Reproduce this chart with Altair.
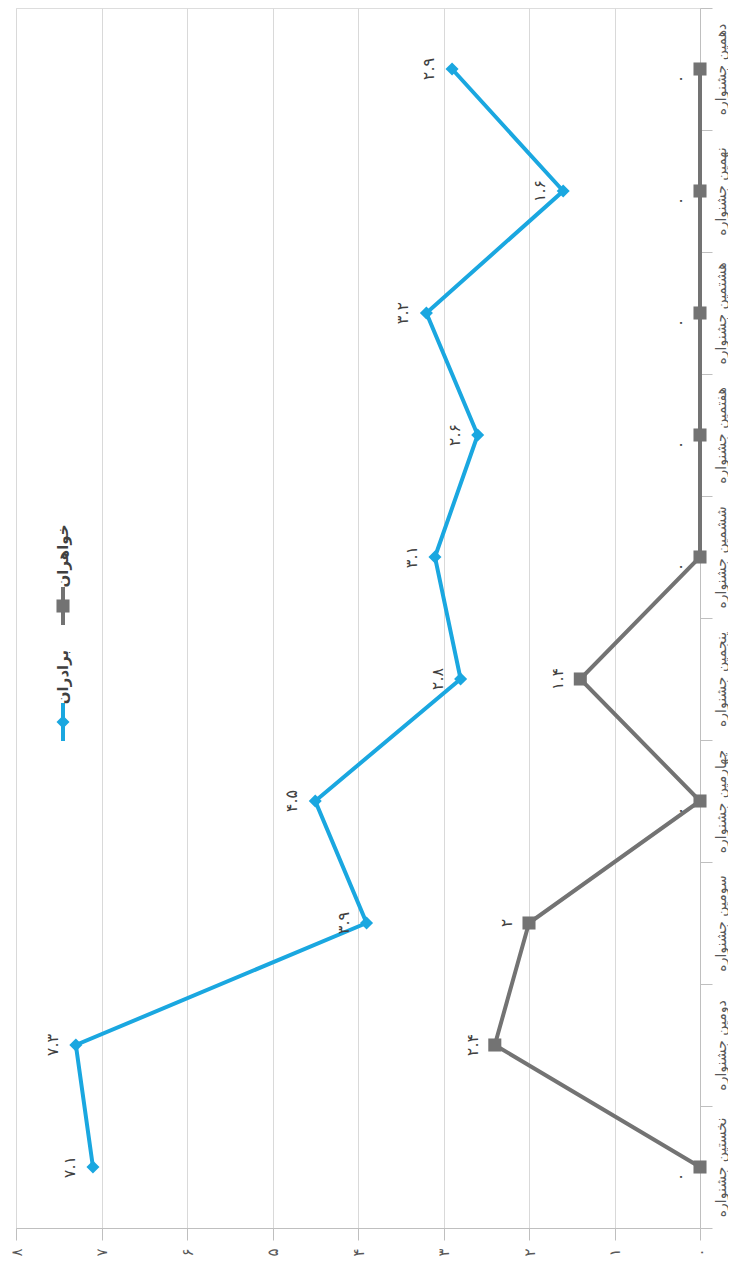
import altair as alt
import pandas as pd

categories = ["نخستین جشنواره", "دومین جشنواره", "سومین جشنواره", "چهارمین جشنواره",
              "پنجمین جشنواره", "ششمین جشنواره", "هفتمین جشنواره", "هشتمین جشنواره",
              "نهمین جشنواره", "دهمین جشنواره"]
brothers = [7.1, 7.3, 3.9, 4.5, 2.8, 3.1, 2.6, 3.2, 1.6, 2.9]
sisters = [0, 2.4, 2, 0, 1.4, 0, 0, 0, 0, 0]
series_names = ["برادران", "خواهران"]
series_colors = ["#1AA7E0", "#737373"]
value_ticks = [0, 1, 2, 3, 4, 5, 6, 7, 8]

FA = str.maketrans("0123456789", "۰۱۲۳۴۵۶۷۸۹")


def fa(v):
    return f"{v:g}".translate(FA)


rows = []
for s, vals in zip(series_names, [brothers, sisters]):
    for i, (c, v) in enumerate(zip(categories, vals)):
        rows.append({"series": s, "cat": c, "idx": i, "v": v, "label": fa(v)})
df = pd.DataFrame(rows)

FONT = "DejaVu Sans"
fa_digits = "['۰','۱','۲','۳','۴','۵','۶','۷','۸','۹']"

y_enc = alt.Y("cat:N", sort=list(reversed(categories)),
              scale=alt.Scale(type="band", paddingInner=0, paddingOuter=0),
              axis=alt.Axis(orient="right", labelAngle=270, tickBand="extent", tickSize=12,
                            labelPadding=9, domainColor="#BFBFBF", tickColor="#BFBFBF",
                            grid=False, title=None, labelFontSize=14, labelColor="#595959",
                            labelAlign="center", labelBaseline="middle", labelFont=FONT))
x_enc = alt.X("v:Q", scale=alt.Scale(domain=[0, 8], reverse=True, nice=False),
              axis=alt.Axis(values=value_ticks, labelExpr=fa_digits + "[datum.value]",
                            labelAngle=270, tickSize=12, gridColor="#D9D9D9",
                            domainColor="#BFBFBF", tickColor="#BFBFBF", labelFontSize=15,
                            labelPadding=12, title=None, labelColor="#595959",
                            labelAlign="center", labelBaseline="middle", labelFont=FONT))
color = alt.Color("series:N", scale=alt.Scale(domain=series_names, range=series_colors), legend=None)
shape = alt.Shape("series:N", scale=alt.Scale(domain=series_names, range=["diamond", "square"]), legend=None)

base = alt.Chart(df)
lines = base.mark_line(strokeWidth=4).encode(x=x_enc, y=y_enc, color=color, order="idx:Q")
points = base.mark_point(filled=True, opacity=1, size=170).encode(x=x_enc, y=y_enc, color=color, shape=shape)

LBL = dict(angle=270, fontSize=16, font=FONT, color="#404040", align="center", baseline="middle")
lab_b = base.transform_filter(alt.datum.series == series_names[0]).mark_text(
    xOffset=-23, yOffset=0, **LBL).encode(x=x_enc, y=y_enc, text="label:N")
lab_s_nz = base.transform_filter((alt.datum.series == series_names[1]) & (alt.datum.v != 0)).mark_text(
    xOffset=-22, yOffset=0, **LBL).encode(x=x_enc, y=y_enc, text="label:N")
lab_s_z = base.transform_filter((alt.datum.series == series_names[1]) & (alt.datum.v == 0)).mark_text(
    xOffset=-19, yOffset=10, **LBL).encode(x=x_enc, y=y_enc, text="label:N")

# manual rotated legend
leg = alt.Chart(pd.DataFrame({"series": series_names}))
leg_b = leg.transform_filter(alt.datum.series == series_names[0])
leg_s = leg.transform_filter(alt.datum.series == series_names[1])
LEGTXT = dict(angle=270, fontSize=15, fontWeight="bold", font=FONT, color="#404040",
              align="center", baseline="middle")
legend_layers = [
    leg_b.mark_rule(strokeWidth=4, color=series_colors[0]).encode(
        x=alt.value(47), y=alt.value(695), y2=alt.value(733)),
    leg_b.mark_point(shape="diamond", filled=True, opacity=1, size=170, color=series_colors[0]).encode(
        x=alt.value(47), y=alt.value(714)),
    leg_b.mark_text(**LEGTXT).encode(x=alt.value(47), y=alt.value(669), text="series:N"),
    leg_s.mark_rule(strokeWidth=4, color=series_colors[1]).encode(
        x=alt.value(47), y=alt.value(579), y2=alt.value(617)),
    leg_s.mark_point(shape="square", filled=True, opacity=1, size=170, color=series_colors[1]).encode(
        x=alt.value(47), y=alt.value(598)),
    leg_s.mark_text(**LEGTXT).encode(x=alt.value(47), y=alt.value(548), text="series:N"),
]

chart = alt.layer(lines, points, lab_b, lab_s_nz, lab_s_z, *legend_layers).properties(
    width=684, height=1220,
    autosize=alt.AutoSizeParams(type="none"),
    padding={"left": 8, "top": 0, "right": 28, "bottom": 30},
).configure_view(stroke=None).configure(font=FONT)

chart.save("out.html", embed_options={"renderer": "svg", "actions": False})
